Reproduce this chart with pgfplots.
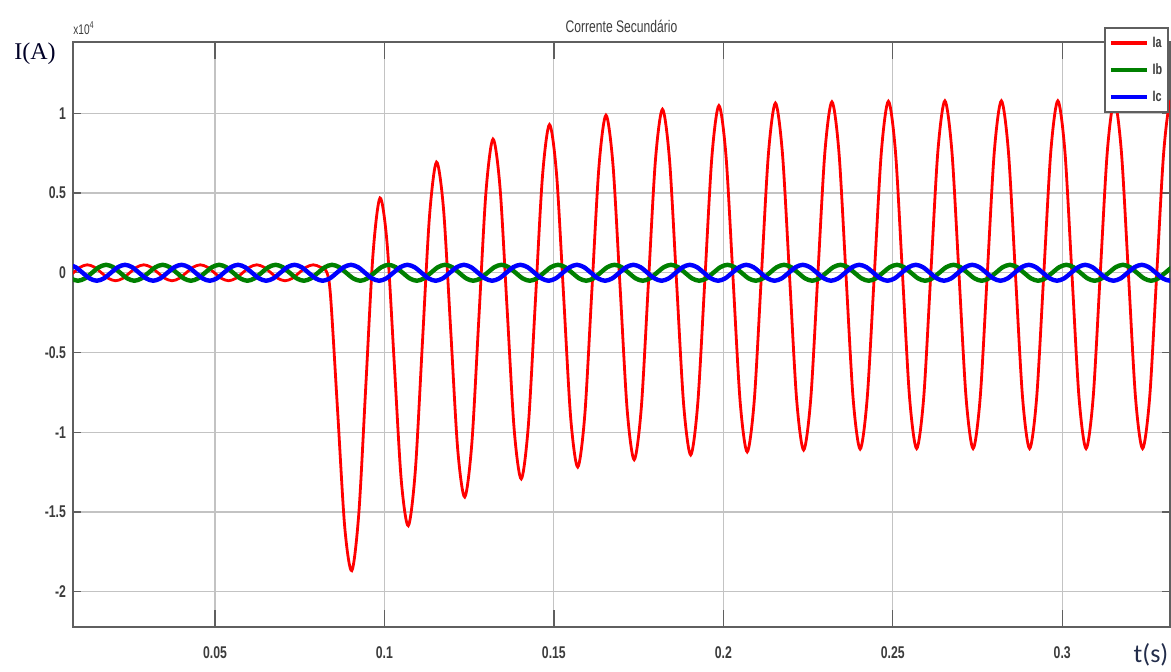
\documentclass[border=0pt]{standalone}
\usepackage{pgfplots}
\pgfplotsset{compat=1.18}
\usepackage{fontspec}
\setmainfont{Liberation Sans}
\newfontfamily\narrowfont[FakeStretch=0.72]{Liberation Sans}
\newfontfamily\serifA{Liberation Serif}
\newfontfamily\calib{Carlito}
\definecolor{mred}{RGB}{255,0,0}
\definecolor{mgreen}{RGB}{0,128,0}
\definecolor{mblue}{RGB}{0,0,255}
\definecolor{gridgray}{RGB}{195,195,195}
\definecolor{axgray}{RGB}{95,95,95}
\definecolor{ticktext}{RGB}{60,60,60}
\definecolor{labnavy}{RGB}{35,45,75}
\begin{document}
\begin{tikzpicture}
\path[use as bounding box] (0,0) rectangle (585.5pt,335.5pt);
\begin{axis}[
  at={(36.5pt,22pt)}, anchor=south west,
  scale only axis, width=548.5pt, height=292.5pt,
  xmin=0.00811, xmax=0.3318, ymin=-2.221, ymax=1.447,
  xtick={0.05,0.1,0.15,0.2,0.25,0.3},
  xticklabels={0.05,0.1,0.15,0.2,0.25,0.3},
  ytick={-2,-1.5,-1,-0.5,0,0.5,1},
  yticklabels={-2,-1.5,-1,-0.5,0,0.5,1},
  tick align=inside,
  major tick length=4pt,
  xtick style={draw=axgray, line width=0.7pt, /pgfplots/major tick length=8.5pt},
  ytick style={draw=axgray, line width=0.7pt},
  grid=major,
  major grid style={draw=gridgray, line width=0.6pt},
  axis line style={draw=axgray, line width=1pt},
  xticklabel style={font=\narrowfont\bfseries\fontsize{8.5}{9}\selectfont, text=ticktext, yshift=-6.5pt},
  yticklabel style={font=\narrowfont\bfseries\fontsize{8.5}{9}\selectfont, text=ticktext},
  legend style={at={(1,1)}, anchor=north east, xshift=-0.5pt, yshift=7.5pt,
    draw=axgray, line width=0.8pt, fill=white, inner xsep=2pt, inner ysep=2pt,
    row sep=2.5pt, column sep=1pt,
    font=\narrowfont\bfseries\fontsize{7.5}{8}\selectfont, text=ticktext,
    nodes={inner sep=1pt, text height=7pt, text depth=2pt}},
  legend cell align=left,
  legend image code/.code={\draw[#1, line width=1.8pt] (0pt,0pt) -- (18pt,0pt);},
]
% Ia
\addplot[mred, line width=1.4pt, smooth] table {
0.00401 -0.05
0.00609 -0.0354
0.00818 0
0.01026 0.0354
0.01234 0.05
0.01443 0.0354
0.01651 0
0.01859 -0.0354
0.02068 -0.05
0.02276 -0.0354
0.02484 0
0.02693 0.0354
0.02901 0.05
0.03109 0.0354
0.03318 0
0.03526 -0.0354
0.03734 -0.05
0.03943 -0.0354
0.04151 0
0.04359 0.0354
0.04568 0.05
0.04776 0.0354
0.04984 0
0.05193 -0.0354
0.05401 -0.05
0.05609 -0.0354
0.05818 0
0.06026 0.0354
0.06234 0.05
0.06443 0.0354
0.06651 0
0.06859 -0.0354
0.07068 -0.05
0.07276 -0.0354
0.07484 0
0.07693 0.0354
0.07901 0.05
0.08109 0.0354
0.08300 0.003
0.08412 -0.151
0.08620 -0.871
0.08829 -1.595
0.09037 -1.868
0.09245 -1.507
0.09454 -0.696
0.09662 0.114
0.09870 0.469
0.10079 0.184
0.10287 -0.555
0.10495 -1.296
0.10704 -1.586
0.10912 -1.240
0.11120 -0.443
0.11329 0.352
0.11537 0.694
0.11745 0.397
0.11954 -0.354
0.12162 -1.106
0.12370 -1.406
0.12579 -1.070
0.12787 -0.283
0.12995 0.504
0.13204 0.838
0.13412 0.532
0.13620 -0.226
0.13829 -0.984
0.14037 -1.292
0.14245 -0.962
0.14454 -0.180
0.14662 0.601
0.14870 0.929
0.15079 0.619
0.15287 -0.144
0.15495 -0.907
0.15704 -1.218
0.15912 -0.892
0.16120 -0.115
0.16329 0.663
0.16537 0.988
0.16745 0.674
0.16954 -0.092
0.17162 -0.858
0.17370 -1.172
0.17579 -0.848
0.17787 -0.073
0.17995 0.702
0.18204 1.025
0.18412 0.709
0.18620 -0.058
0.18829 -0.826
0.19037 -1.142
0.19245 -0.820
0.19454 -0.047
0.19662 0.727
0.19870 1.048
0.20079 0.732
0.20287 -0.037
0.20495 -0.806
0.20704 -1.123
0.20912 -0.802
0.21120 -0.030
0.21329 0.743
0.21537 1.064
0.21745 0.746
0.21954 -0.022
0.22162 -0.793
0.22370 -1.111
0.22579 -0.791
0.22787 -0.019
0.22995 0.753
0.23204 1.072
0.23412 0.754
0.23620 -0.017
0.23829 -0.787
0.24037 -1.105
0.24245 -0.786
0.24454 -0.015
0.24662 0.756
0.24870 1.075
0.25079 0.759
0.25287 -0.012
0.25495 -0.783
0.25704 -1.102
0.25912 -0.783
0.26120 -0.012
0.26329 0.759
0.26537 1.078
0.26745 0.759
0.26954 -0.012
0.27162 -0.783
0.27370 -1.102
0.27579 -0.783
0.27787 -0.012
0.27995 0.759
0.28204 1.078
0.28412 0.759
0.28620 -0.012
0.28829 -0.783
0.29037 -1.102
0.29245 -0.783
0.29454 -0.012
0.29662 0.759
0.29870 1.078
0.30079 0.759
0.30287 -0.012
0.30495 -0.783
0.30704 -1.102
0.30912 -0.783
0.31120 -0.012
0.31329 0.759
0.31537 1.078
0.31745 0.759
0.31954 -0.012
0.32162 -0.783
0.32370 -1.102
0.32579 -0.783
0.32787 -0.012
0.32995 0.759
0.33204 1.078
0.33412 0.759
};
\addlegendentry{Ia}
% Ib
\addplot[mgreen, line width=2.2pt, smooth] table {
0.00122 0.05
0.00330 0.0354
0.00539 0
0.00747 -0.0354
0.00955 -0.05
0.01164 -0.0354
0.01372 0
0.01580 0.0354
0.01789 0.05
0.01997 0.0354
0.02205 0
0.02414 -0.0354
0.02622 -0.05
0.02830 -0.0354
0.03039 0
0.03247 0.0354
0.03455 0.05
0.03664 0.0354
0.03872 0
0.04080 -0.0354
0.04289 -0.05
0.04497 -0.0354
0.04705 0
0.04914 0.0354
0.05122 0.05
0.05330 0.0354
0.05539 0
0.05747 -0.0354
0.05955 -0.05
0.06164 -0.0354
0.06372 0
0.06580 0.0354
0.06789 0.05
0.06997 0.0354
0.07205 0
0.07414 -0.0354
0.07622 -0.05
0.07830 -0.0354
0.08039 0
0.08247 0.0354
0.08455 0.05
0.08664 0.0354
0.08872 0
0.09080 -0.0354
0.09289 -0.05
0.09497 -0.0354
0.09705 0
0.09914 0.0354
0.10122 0.05
0.10330 0.0354
0.10539 0
0.10747 -0.0354
0.10955 -0.05
0.11164 -0.0354
0.11372 0
0.11580 0.0354
0.11789 0.05
0.11997 0.0354
0.12205 0
0.12414 -0.0354
0.12622 -0.05
0.12830 -0.0354
0.13039 0
0.13247 0.0354
0.13455 0.05
0.13664 0.0354
0.13872 0
0.14080 -0.0354
0.14289 -0.05
0.14497 -0.0354
0.14705 0
0.14914 0.0354
0.15122 0.05
0.15330 0.0354
0.15539 0
0.15747 -0.0354
0.15955 -0.05
0.16164 -0.0354
0.16372 0
0.16580 0.0354
0.16789 0.05
0.16997 0.0354
0.17205 0
0.17414 -0.0354
0.17622 -0.05
0.17830 -0.0354
0.18039 0
0.18247 0.0354
0.18455 0.05
0.18664 0.0354
0.18872 0
0.19080 -0.0354
0.19289 -0.05
0.19497 -0.0354
0.19705 0
0.19914 0.0354
0.20122 0.05
0.20330 0.0354
0.20539 0
0.20747 -0.0354
0.20955 -0.05
0.21164 -0.0354
0.21372 0
0.21580 0.0354
0.21789 0.05
0.21997 0.0354
0.22205 0
0.22414 -0.0354
0.22622 -0.05
0.22830 -0.0354
0.23039 0
0.23247 0.0354
0.23455 0.05
0.23664 0.0354
0.23872 0
0.24080 -0.0354
0.24289 -0.05
0.24497 -0.0354
0.24705 0
0.24914 0.0354
0.25122 0.05
0.25330 0.0354
0.25539 0
0.25747 -0.0354
0.25955 -0.05
0.26164 -0.0354
0.26372 0
0.26580 0.0354
0.26789 0.05
0.26997 0.0354
0.27205 0
0.27414 -0.0354
0.27622 -0.05
0.27830 -0.0354
0.28039 0
0.28247 0.0354
0.28455 0.05
0.28664 0.0354
0.28872 0
0.29080 -0.0354
0.29289 -0.05
0.29497 -0.0354
0.29705 0
0.29914 0.0354
0.30122 0.05
0.30330 0.0354
0.30539 0
0.30747 -0.0354
0.30955 -0.05
0.31164 -0.0354
0.31372 0
0.31580 0.0354
0.31789 0.05
0.31997 0.0354
0.32205 0
0.32414 -0.0354
0.32622 -0.05
0.32830 -0.0354
0.33039 0
0.33247 0.0354
0.33455 0.05
};
\addlegendentry{Ib}
% Ic
\addplot[mblue, line width=2.2pt, smooth] table {
0.00678 0.05
0.00886 0.0354
0.01095 0
0.01303 -0.0354
0.01511 -0.05
0.01720 -0.0354
0.01928 0
0.02136 0.0354
0.02345 0.05
0.02553 0.0354
0.02761 0
0.02970 -0.0354
0.03178 -0.05
0.03386 -0.0354
0.03595 0
0.03803 0.0354
0.04011 0.05
0.04220 0.0354
0.04428 0
0.04636 -0.0354
0.04845 -0.05
0.05053 -0.0354
0.05261 0
0.05470 0.0354
0.05678 0.05
0.05886 0.0354
0.06095 0
0.06303 -0.0354
0.06511 -0.05
0.06720 -0.0354
0.06928 0
0.07136 0.0354
0.07345 0.05
0.07553 0.0354
0.07761 0
0.07970 -0.0354
0.08178 -0.05
0.08386 -0.0354
0.08595 0
0.08803 0.0354
0.09011 0.05
0.09220 0.0354
0.09428 0
0.09636 -0.0354
0.09845 -0.05
0.10053 -0.0354
0.10261 0
0.10470 0.0354
0.10678 0.05
0.10886 0.0354
0.11095 0
0.11303 -0.0354
0.11511 -0.05
0.11720 -0.0354
0.11928 0
0.12136 0.0354
0.12345 0.05
0.12553 0.0354
0.12761 0
0.12970 -0.0354
0.13178 -0.05
0.13386 -0.0354
0.13595 0
0.13803 0.0354
0.14011 0.05
0.14220 0.0354
0.14428 0
0.14636 -0.0354
0.14845 -0.05
0.15053 -0.0354
0.15261 0
0.15470 0.0354
0.15678 0.05
0.15886 0.0354
0.16095 0
0.16303 -0.0354
0.16511 -0.05
0.16720 -0.0354
0.16928 0
0.17136 0.0354
0.17345 0.05
0.17553 0.0354
0.17761 0
0.17970 -0.0354
0.18178 -0.05
0.18386 -0.0354
0.18595 0
0.18803 0.0354
0.19011 0.05
0.19220 0.0354
0.19428 0
0.19636 -0.0354
0.19845 -0.05
0.20053 -0.0354
0.20261 0
0.20470 0.0354
0.20678 0.05
0.20886 0.0354
0.21095 0
0.21303 -0.0354
0.21511 -0.05
0.21720 -0.0354
0.21928 0
0.22136 0.0354
0.22345 0.05
0.22553 0.0354
0.22761 0
0.22970 -0.0354
0.23178 -0.05
0.23386 -0.0354
0.23595 0
0.23803 0.0354
0.24011 0.05
0.24220 0.0354
0.24428 0
0.24636 -0.0354
0.24845 -0.05
0.25053 -0.0354
0.25261 0
0.25470 0.0354
0.25678 0.05
0.25886 0.0354
0.26095 0
0.26303 -0.0354
0.26511 -0.05
0.26720 -0.0354
0.26928 0
0.27136 0.0354
0.27345 0.05
0.27553 0.0354
0.27761 0
0.27970 -0.0354
0.28178 -0.05
0.28386 -0.0354
0.28595 0
0.28803 0.0354
0.29011 0.05
0.29220 0.0354
0.29428 0
0.29636 -0.0354
0.29845 -0.05
0.30053 -0.0354
0.30261 0
0.30470 0.0354
0.30678 0.05
0.30886 0.0354
0.31095 0
0.31303 -0.0354
0.31511 -0.05
0.31720 -0.0354
0.31928 0
0.32136 0.0354
0.32345 0.05
0.32553 0.0354
0.32761 0
0.32970 -0.0354
0.33178 -0.05
0.33386 -0.0354
};
\addlegendentry{Ic}
\end{axis}
\node[anchor=base, inner sep=0pt, font=\narrowfont\fontsize{8.4}{9}\selectfont, text=ticktext] at (310.75pt,319pt) {Corrente Secundário};
\node[anchor=base west, inner sep=0pt, font=\narrowfont\fontsize{7}{8}\selectfont, text=ticktext] at (36.5pt,318pt) {x10\textsuperscript{4}};
\node[anchor=base, inner sep=0pt, font=\serifA\fontsize{12}{14}\selectfont, text=black!85!blue] at (17.5pt,305.5pt) {I(A)};
\node[anchor=base, inner sep=0pt, font=\calib\fontsize{13}{15}\selectfont, text=labnavy] at (575.5pt,4.5pt) {t(s)};
\end{tikzpicture}
\end{document}
